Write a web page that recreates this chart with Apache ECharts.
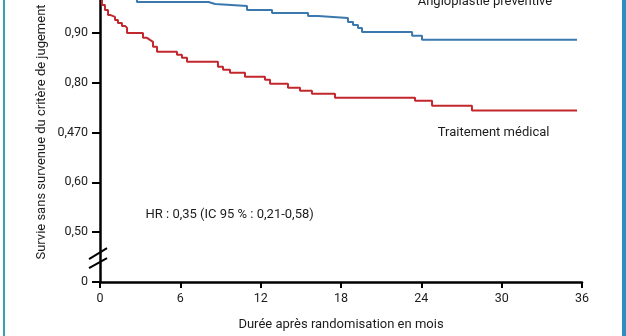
<!DOCTYPE html>
<html>
<head>
<meta charset="utf-8">
<script src="https://cdn.jsdelivr.net/npm/echarts@6/dist/echarts.min.js"></script>
<style>
html,body{margin:0;padding:0;background:#fff;}
#c{width:626px;height:336px;}
</style>
</head>
<body>
<div id="c"></div>
<script>
// Months (x) and survival (y) for Kaplan-Meier steps
const monthTicks = [0, 6, 12, 18, 24, 30, 36];
const yTickValues = [0.4, 0.5, 0.6, 0.7, 0.8, 0.9];
const yTickLabels = ['0', '0,50', '0,60', '0,470', '0,80', '0,90'];

const angioMonths = [0, 0.6, 1.5, 2.76, 8.1, 8.6, 10.98, 12.85, 15.54, 16.28, 18.52, 18.9, 19.27, 19.57, 23.31, 24.05, 35.63];
const angioSurv   = [1.0, 0.99, 0.98, 0.962, 0.958, 0.954, 0.946, 0.94, 0.934, 0.93, 0.922, 0.916, 0.91, 0.902, 0.894, 0.886, 0.886];

const medMonths = [0, 0.15, 0.37, 0.6, 0.75, 1.12, 1.34, 1.64, 1.87, 2.02, 3.21, 3.51, 3.73, 3.96, 4.26, 5.75, 6.12, 6.5, 8.81, 9.19, 9.71, 10.83, 12.32, 12.7, 14.04, 14.94, 15.83, 17.55, 23.53, 24.8, 27.78, 35.63];
const medSurv   = [1.0, 0.956, 0.946, 0.936, 0.932, 0.926, 0.92, 0.914, 0.91, 0.90, 0.89, 0.886, 0.882, 0.872, 0.862, 0.856, 0.85, 0.842, 0.832, 0.826, 0.82, 0.812, 0.806, 0.798, 0.79, 0.784, 0.778, 0.77, 0.764, 0.754, 0.744, 0.744];

const seriesNames = ['Angioplastie préventive', 'Traitement médical'];
const hrText = 'HR : 0,35 (IC 95 % : 0,21-0,58)';
const xTitle = 'Durée après randomisation en mois';
const yTitle = 'Survie sans survenue du critère de jugement';

const FONT = 'Roboto';
const TXT = '#1c1c1c';

function zip(a, b) { return a.map((v, i) => [v, b[i]]); }

const chart = echarts.init(document.getElementById('c'));
chart.setOption({
  animation: false,
  backgroundColor: '#ffffff',
  grid: { left: 100, right: 44, top: 0, bottom: 54 },
  xAxis: {
    type: 'value', min: 0, max: 36, interval: 6,
    axisLine: { show: true, onZero: false, lineStyle: { color: '#000', width: 2.5 } },
    axisTick: { show: true, length: 6, lineStyle: { color: '#000', width: 2 } },
    axisLabel: { margin: 10, color: TXT, fontFamily: FONT, fontSize: 12.5,
      formatter: v => monthTicks.includes(v) ? String(v) : '' },
    splitLine: { show: false }
  },
  yAxis: {
    type: 'value', min: 0.4, max: 0.966,
    axisLine: { show: true, onZero: false, lineStyle: { color: '#000', width: 2.5 } },
    axisTick: { show: true, length: 8, customValues: yTickValues, lineStyle: { color: '#000', width: 2 } },
    axisLabel: { margin: 12, color: TXT, fontFamily: FONT, fontSize: 12.5, customValues: yTickValues,
      formatter: v => {
        const i = yTickValues.findIndex(t => Math.abs(t - v) < 1e-6);
        return i >= 0 ? yTickLabels[i] : '';
      } },
    splitLine: { show: false }
  },
  series: [
    { name: seriesNames[0], type: 'line', step: 'end', symbol: 'none', clip: true,
      data: zip(angioMonths, angioSurv), lineStyle: { color: '#3a78ad', width: 2 } },
    { name: seriesNames[1], type: 'line', step: 'end', symbol: 'none', clip: true,
      data: zip(medMonths, medSurv), lineStyle: { color: '#c1272d', width: 2 } }
  ]
});

const p0 = chart.convertToPixel({ gridIndex: 0 }, [0, 0.45]);
const pA = chart.convertToPixel({ gridIndex: 0 }, [28.75, 0.966]);
const pM = chart.convertToPixel({ gridIndex: 0 }, [29.4, 0.70]);
const pH = chart.convertToPixel({ gridIndex: 0 }, [3.4, 0.534]);
const pX = chart.convertToPixel({ gridIndex: 0 }, [18, 0.4]);

chart.setOption({
  graphic: [
    { type: 'rect', left: 3, top: 0, shape: { width: 2, height: 336 }, style: { fill: '#3aa0aa' }, silent: true },
    { type: 'rect', left: 622, top: 0, shape: { width: 4, height: 336 }, style: { fill: '#2f8fc2' }, silent: true },
    { type: 'line', shape: { x1: p0[0] - 11, y1: p0[1] + 2, x2: p0[0] + 7, y2: p0[1] - 9 }, style: { stroke: '#000', lineWidth: 2 }, z: 100 },
    { type: 'line', shape: { x1: p0[0] - 11, y1: p0[1] + 11, x2: p0[0] + 7, y2: p0[1] + 1 }, style: { stroke: '#000', lineWidth: 2 }, z: 100 },
    { type: 'text', x: pA[0], y: pA[1] + 2, style: { text: seriesNames[0], fill: TXT, font: '13px ' + FONT, align: 'center', verticalAlign: 'middle' } },
    { type: 'text', x: pM[0], y: pM[1], style: { text: seriesNames[1], fill: TXT, font: '13px ' + FONT, align: 'center', verticalAlign: 'middle' } },
    { type: 'text', x: pH[0], y: pH[1], style: { text: hrText, fill: TXT, font: '13px ' + FONT, align: 'left', verticalAlign: 'middle' } },
    { type: 'text', x: pX[0], y: pX[1] + 43, style: { text: xTitle, fill: TXT, font: '13px ' + FONT, align: 'center', verticalAlign: 'middle' } },
    { type: 'text', x: 42, y: 132, rotation: Math.PI / 2, style: { text: yTitle, fill: TXT, font: '13px ' + FONT, align: 'center', verticalAlign: 'middle' } }
  ]
});
</script>
</body>
</html>
